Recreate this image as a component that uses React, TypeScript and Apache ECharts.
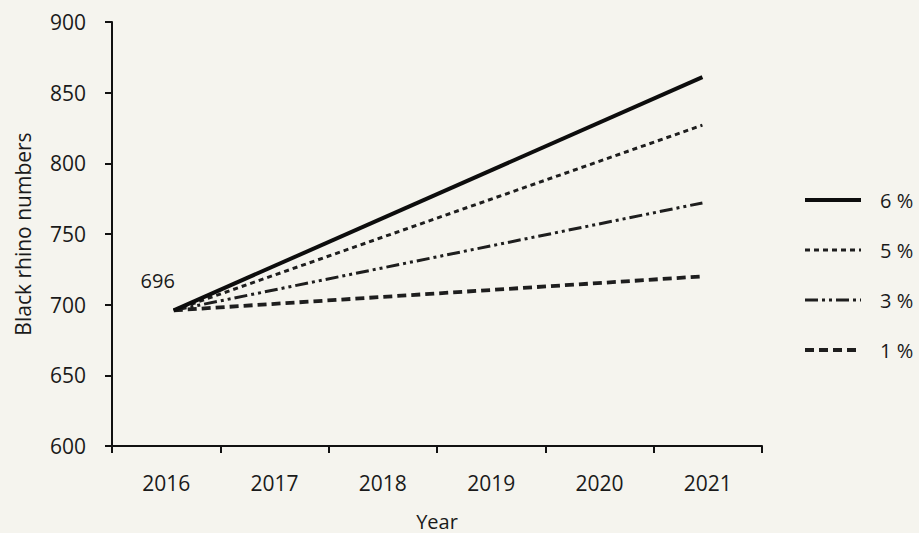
import React, { useEffect, useRef } from "react";
import * as echarts from "echarts";

const years = ["2016", "2017", "2018", "2019", "2020", "2021"];
const seriesNames = ["6 %", "5 %", "3 %", "1 %"];
const startYear = 2016.07;
const endYear = 2020.95;
const startValue = 696;
const endValues = [861, 827, 772, 720];
const yTicks = [600, 650, 700, 750, 800, 850, 900];

const FONT = "'Open Sans', 'Noto Sans', sans-serif";

export default function App() {
  const ref = useRef<HTMLDivElement>(null);
  useEffect(() => {
    document.body.style.margin = "0";
    if (!ref.current) return;
    const chart = echarts.init(ref.current, undefined, { renderer: "svg" });
    const styles: any[] = [
      { type: "solid", width: 4, color: "#0d0d0d" },
      { type: [5, 4], width: 3, color: "#1e1e1e" },
      { type: [13, 4, 3, 4, 3, 4], width: 3, color: "#1e1e1e" },
      { type: [9, 5], width: 3.8, color: "#1e1e1e" },
    ];
    const series = seriesNames.map((name, i) => ({
      name,
      type: "line",
      xAxisIndex: 1,
      symbol: "circle",
      symbolSize: 0.01,
      showSymbol: true,
      lineStyle: styles[i],
      itemStyle: { color: styles[i].color },
      label: { show: false },
      data: [
        [startYear, startValue],
        [endYear, endValues[i]],
      ],
      markPoint:
        i === 0
          ? {
              symbol: "circle",
              symbolSize: 0.01,
              itemStyle: { color: "transparent" },
              label: {
                show: true,
                formatter: String(startValue),
                position: "top",
                offset: [-16, -15],
                fontFamily: FONT,
                fontSize: 20,
                color: "#1a1a1a",
              },
              data: [{ coord: [startYear, startValue], value: startValue }],
            }
          : undefined,
      z: 10 - i,
    }));
    chart.setOption({
      animation: false,
      backgroundColor: "#f5f4ee",
      textStyle: { fontFamily: FONT },
      grid: { left: 112, right: 157, top: 22, bottom: 87, outerBoundsMode: "none", containLabel: false },
      legend: {
        orient: "vertical",
        left: 803,
        top: 190,
        padding: 0,
        itemWidth: 56,
        itemHeight: 24,
        itemGap: 30,
        itemStyle: { opacity: 0 },
        textStyle: { fontFamily: FONT, fontSize: 20, color: "#1a1a1a", padding: [0, 0, 0, 14] },
        data: seriesNames.map((name, i) => ({
          name,
          lineStyle: { type: styles[i].type, width: styles[i].width, color: styles[i].color },
        })),
      },
      xAxis: [
        {
          type: "category",
          data: years,
          boundaryGap: true,
          name: "Year",
          nameLocation: "middle",
          nameGap: 65,
          nameTextStyle: { fontSize: 20, color: "#1a1a1a", fontFamily: FONT },
          axisLine: { lineStyle: { color: "#111", width: 2 } },
          axisTick: { show: true, length: 7, alignWithLabel: false, lineStyle: { color: "#111", width: 2 } },
          axisLabel: { fontSize: 21, color: "#1a1a1a", margin: 26, fontFamily: FONT },
          splitLine: { show: false },
        },
        {
          type: "value",
          min: 2015.5,
          max: 2021.5,
          show: false,
          splitLine: { show: false },
        },
      ],
      yAxis: {
        type: "value",
        min: yTicks[0],
        max: yTicks[yTicks.length - 1],
        interval: 50,
        name: "Black rhino numbers",
        nameLocation: "middle",
        nameGap: 79,
        nameTextStyle: { fontSize: 21, color: "#1a1a1a", fontFamily: FONT },
        axisLine: { show: true, lineStyle: { color: "#111", width: 2 } },
        axisTick: { show: true, length: 7, lineStyle: { color: "#111", width: 2 } },
        axisLabel: { fontSize: 21, color: "#1a1a1a", margin: 26, fontFamily: FONT },
        splitLine: { show: false },
      },
      series,
    });
    return () => chart.dispose();
  }, []);
  return <div ref={ref} style={{ width: 919, height: 533 }} />;
}
